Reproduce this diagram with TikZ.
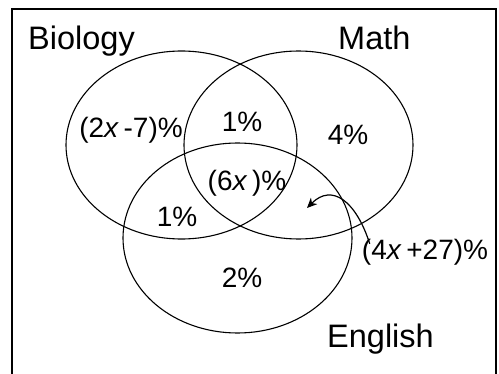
\documentclass[tikz,border=0pt]{standalone}
\usepackage{fontspec}
\setmainfont{Liberation Sans}
\usetikzlibrary{arrows.meta}
\begin{document}
\begin{tikzpicture}[x=1pt,y=1pt,
  setring/.style={draw=black,line width=1.1pt},
  title/.style={font=\fontsize{32.5}{32.5}\selectfont,inner sep=0pt,anchor=base west},
  region/.style={font=\fontsize{28}{28}\selectfont,inner sep=0pt}]
\useasboundingbox (0,0) rectangle (499,373);
\clip (0,0) rectangle (499,373);
\draw[line width=1.8pt] (12,-10) -- (12,364) -- (496,364) -- (496,-10);
\draw[setring] (181.5,228) ellipse [x radius=115.5, y radius=94];
\draw[setring] (298.5,228) ellipse [x radius=114.5, y radius=94];
\draw[setring] (237.5,135) ellipse [x radius=114.5, y radius=95];
\node[title] (bio) at (28,323) {Biology};
\node[title] (math) at (338,323) {Math};
\node[title] (eng) at (327,26) {English};
\node[region] (r1) at (131,243) {(2\textit{x}\,-7)\%};
\node[region] (r2) at (242,251) {1\%};
\node[region] (r3) at (348,238) {4\%};
\node[region] (r4) at (247,190) {(6\textit{x}\,)\%};
\node[region] (r5) at (177,156) {1\%};
\node[region] (r6) at (242,95) {2\%};
\node[region] (r7) at (425,121) {(4\textit{x}\,+27)\%};
\coordinate (tip) at (307,165);
\draw[line width=1.2pt,-{Stealth[length=10pt,width=9pt,inset=3pt]}] (r7.north west) ++(8,-5) .. controls (356,172) and (332,190) .. (tip);
\end{tikzpicture}
\end{document}
